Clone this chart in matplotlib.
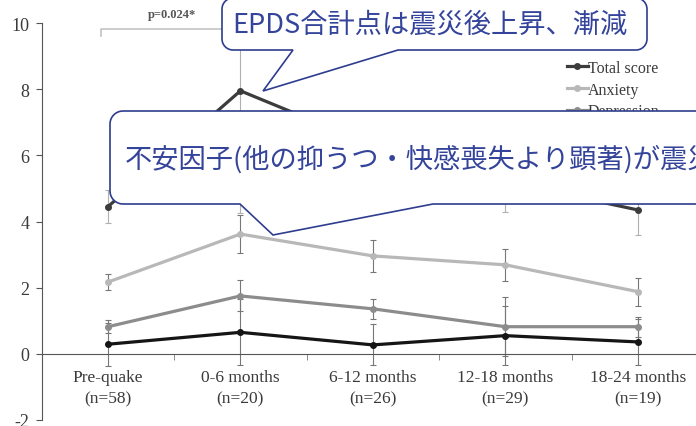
import numpy as np
import matplotlib
matplotlib.use("Agg")
import matplotlib.pyplot as plt
from matplotlib.patches import Polygon

# EPDS scores by period after the earthquake (mean and error)
periods = ["Pre-quake\n(n=58)", "0-6 months\n(n=20)", "6-12 months\n(n=26)",
           "12-18 months\n(n=29)", "18-24 months\n(n=19)"]
total = [4.45, 7.95, 6.3, 5.2, 4.35]
total_err = [0.5, 3.7, 0.9, 0.9, 0.75]
anxiety = [2.17, 3.62, 2.96, 2.69, 1.88]
anxiety_err = [0.25, 0.58, 0.49, 0.48, 0.42]
depression = [0.82, 1.75, 1.36, 0.82, 0.82]
depression_err = [0.2, 0.47, 0.3, 0.9, 0.3]
anhedonia = [0.29, 0.65, 0.27, 0.55, 0.36]
anhedonia_err = [0.65, 1.0, 0.62, 0.9, 0.7]
p_label = "p=0.024*"

note1 = "EPDS合計点は震災後上昇、漸減"
note2 = "不安因子(他の抑うつ・快感喪失より顕著)が震災後上昇"

plt.rcParams['font.family'] = ['Liberation Serif']
plt.rcParams['axes.unicode_minus'] = False

fig = plt.figure(figsize=(6.96, 4.27), dpi=100)
ax = fig.add_axes([41.75 / 696, 6 / 427, 662.25 / 696, 397 / 427])

x = np.arange(len(periods))
series = [
    ("Total score", total, total_err, "#3c3c3c", "#b0b0b0"),
    ("Anxiety", anxiety, anxiety_err, "#b8b8b8", "#777777"),
    ("Depression", depression, depression_err, "#8c8c8c", "#777777"),
    ("Anhedonia", anhedonia, anhedonia_err, "#151515", "#777777"),
]
for name, vals, err, col, ecol in series:
    ax.errorbar(x, vals, yerr=err, fmt="none", ecolor=ecol, elinewidth=0.8,
                capsize=2, capthick=0.8, zorder=2)
    ax.plot(x, vals, color=col, lw=2.3, marker="o", ms=4, label=name, zorder=3)

# significance bracket between pre-quake and 0-6 months
ax.plot([-0.05, -0.05, 1], [9.6, 9.82, 9.82], color="#c4c4c4", lw=1.2, zorder=1)
ax.text(0.48, 10.26, p_label, ha="center", va="center", fontsize=9,
        fontweight="bold", color="#555555")

ax.set_xlim(-0.5, 4.5)
ax.set_ylim(-2, 10)
ax.set_yticks(np.arange(-2, 11, 2))
ax.set_xticks([])
ax.set_xticks(x[:-1] + 0.5, minor=True)
# category labels hang below the zero line
for xi, lab in zip(x, periods):
    ax.annotate(lab, xy=(xi, 0), xytext=(0, -11), textcoords="offset points",
                ha="center", va="top", fontsize=12.5, color="#3a3a3a",
                linespacing=1.45)
ax.tick_params(axis="x", which="minor", length=4, direction="out", color="#777777")
ax.tick_params(axis="y", length=4, direction="out", pad=5, labelsize=13,
               labelcolor="#3a3a3a", color="#555555")
for s in ["top", "right"]:
    ax.spines[s].set_visible(False)
ax.spines["bottom"].set_position(("data", 0))
ax.spines["bottom"].set_color("#555555")
ax.spines["left"].set_color("#555555")

leg = ax.legend(loc="upper left", bbox_to_anchor=(567 / 696, 1 - 61 / 427),
                bbox_transform=fig.transFigure, frameon=False, fontsize=11.5,
                handlelength=1.3, handletextpad=0.0, labelspacing=0.35,
                borderaxespad=0, borderpad=0)
for t in leg.get_texts():
    t.set_color("#3a3a3a")

# speech-bubble notes in pixel coordinates
ov = fig.add_axes([0, 0, 1, 1], zorder=10)
ov.set_xlim(0, 696)
ov.set_ylim(427, 0)
ov.axis("off")
ov.patch.set_alpha(0)


def bubble(x0, y0, x1, y1, r, b0, b1, tip):
    def arc(cx, cy, a0, a1):
        a = np.radians(np.linspace(a0, a1, 10))
        return list(zip(cx + r * np.cos(a), cy + r * np.sin(a)))
    pts = []
    pts += arc(x1 - r, y0 + r, -90, 0)
    pts += arc(x1 - r, y1 - r, 0, 90)
    pts += [(b1, y1), tip, (b0, y1)]
    pts += arc(x0 + r, y1 - r, 90, 180)
    pts += arc(x0 + r, y0 + r, 180, 270)
    ov.add_patch(Polygon(pts, closed=True, facecolor="white", edgecolor="#2e3d8f",
                         lw=1.2, joinstyle="miter"))


bubble(222, -1, 647, 51, 11, 293, 398, (263, 92))
ov.text(232, 25, note1, ha="left", va="center", fontsize=19.6,
        family=["Noto Sans CJK JP", "DejaVu Sans"], color="#34449a")

bubble(110, 112, 740, 205, 13, 240, 433, (273, 236))
ov.text(125, 160, note2, ha="left", va="center", fontsize=19.6,
        family=["Noto Sans CJK JP", "DejaVu Sans"], color="#34449a")

fig.savefig("out.png", dpi=100)
